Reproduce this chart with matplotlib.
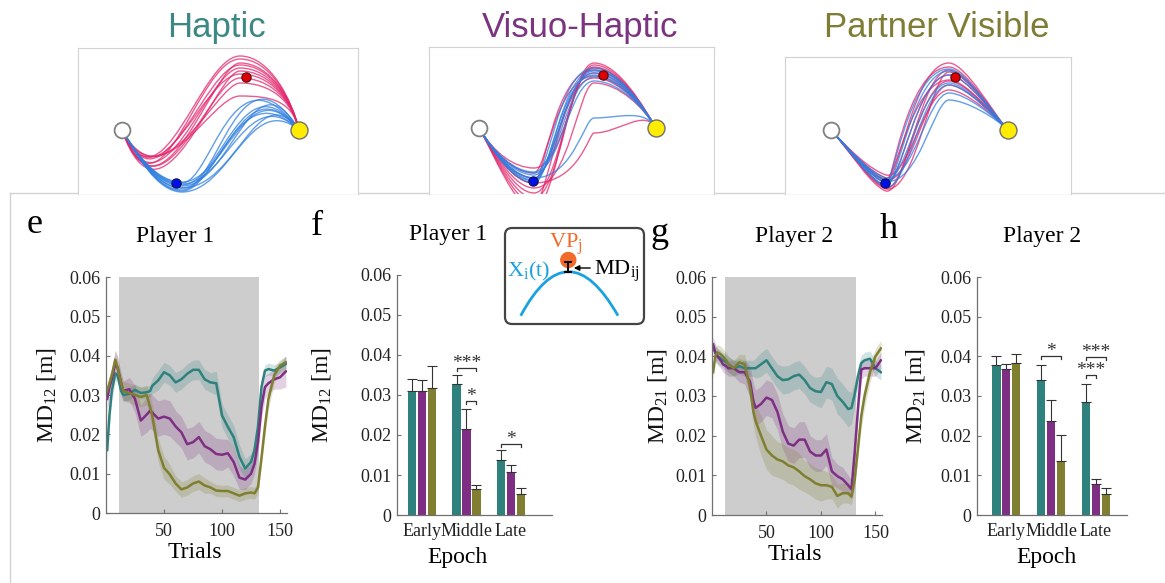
import numpy as np
import matplotlib
matplotlib.use('Agg')
import matplotlib.pyplot as plt
from matplotlib.path import Path
from matplotlib.patches import PathPatch, FancyBboxPatch, Circle
from matplotlib.lines import Line2D

plt.rcParams['font.family'] = ['Liberation Serif', 'DejaVu Serif']
plt.rcParams['mathtext.default'] = 'regular'

# ---------------- data ----------------
conditions = ['Haptic', 'Visuo-Haptic', 'Partner Visible']
epochs = ['Early', 'Middle', 'Late']

trials = [1, 3, 5, 8, 10, 13, 15, 20, 25, 30,
          35, 38, 40, 45, 50, 55, 60, 65, 70, 75,
          80, 85, 90, 95, 100, 105, 110, 115, 120, 125,
          128, 131, 134, 137, 140, 145, 150, 155]
shade_trials = [11.5, 132]

# panel e: player 1, moving mean of MD12
e_hap = [0.016, 0.025, 0.031, 0.0355, 0.035, 0.031, 0.030, 0.0303, 0.0313, 0.0305,
         0.0307, 0.031, 0.0324, 0.0337, 0.0358, 0.035, 0.0332, 0.034, 0.0354, 0.0364,
         0.0364, 0.034, 0.0332, 0.033, 0.0248, 0.0219, 0.0193, 0.0143, 0.0113, 0.013,
         0.016, 0.022, 0.032, 0.0362, 0.0366, 0.0362, 0.037, 0.0379]
e_vis = [0.029, 0.032, 0.034, 0.038, 0.037, 0.033, 0.031, 0.0315, 0.029, 0.0235,
         0.025, 0.026, 0.0255, 0.024, 0.0245, 0.024, 0.022, 0.0205, 0.0175, 0.018,
         0.0193, 0.017, 0.0162, 0.015, 0.0148, 0.0152, 0.013, 0.009, 0.0085, 0.010,
         0.0125, 0.018, 0.027, 0.032, 0.033, 0.034, 0.0345, 0.036]
e_pv = [0.031, 0.033, 0.035, 0.039, 0.037, 0.033, 0.031, 0.0305, 0.030, 0.0295,
        0.030, 0.027, 0.0245, 0.016, 0.0115, 0.0098, 0.0075, 0.006, 0.0065, 0.0075,
        0.008, 0.007, 0.0065, 0.0057, 0.0056, 0.0056, 0.005, 0.0044, 0.005, 0.0052,
        0.005, 0.0065, 0.014, 0.022, 0.029, 0.035, 0.0375, 0.0383]
e_hap_sem = [0.003, 0.003, 0.0025, 0.002, 0.0015, 0.0015, 0.0015, 0.0015, 0.0015, 0.0015,
             0.0015, 0.0015, 0.002, 0.0025, 0.0025, 0.0025, 0.0025, 0.0025, 0.0025, 0.0025,
             0.0025, 0.0025, 0.0025, 0.003, 0.003, 0.003, 0.003, 0.003, 0.0025, 0.002,
             0.002, 0.002, 0.002, 0.0015, 0.0015, 0.0015, 0.0015, 0.002]
e_vis_sem = [0.003, 0.003, 0.003, 0.0035, 0.003, 0.0025, 0.0025, 0.003, 0.0035, 0.004,
             0.0045, 0.0045, 0.0045, 0.0045, 0.0045, 0.0045, 0.004, 0.004, 0.004, 0.004,
             0.004, 0.004, 0.004, 0.004, 0.004, 0.0035, 0.0035, 0.003, 0.0025, 0.0025,
             0.0025, 0.003, 0.003, 0.003, 0.0025, 0.0025, 0.003, 0.004]
e_pv_sem = [0.002, 0.002, 0.002, 0.002, 0.0025, 0.0025, 0.0025, 0.0025, 0.0025, 0.0025,
            0.0025, 0.003, 0.003, 0.003, 0.003, 0.0025, 0.002, 0.002, 0.002, 0.002,
            0.002, 0.002, 0.0015, 0.0015, 0.0015, 0.0015, 0.0015, 0.0015, 0.0015, 0.0015,
            0.0015, 0.0015, 0.002, 0.0025, 0.0025, 0.002, 0.0015, 0.0015]

# panel g: player 2, moving mean of MD21
g_hap = [0.042, 0.041, 0.040, 0.0395, 0.039, 0.0385, 0.038, 0.037, 0.0375, 0.037,
         0.037, 0.037, 0.037, 0.038, 0.039, 0.037, 0.035, 0.034, 0.0342, 0.035,
         0.0354, 0.034, 0.032, 0.0312, 0.031, 0.0335, 0.033, 0.030, 0.0285, 0.0267,
         0.027, 0.0305, 0.035, 0.0383, 0.039, 0.0394, 0.037, 0.036]
g_vis = [0.043, 0.041, 0.040, 0.039, 0.038, 0.0375, 0.037, 0.037, 0.036, 0.036,
         0.0335, 0.0287, 0.027, 0.028, 0.0296, 0.029, 0.026, 0.021, 0.018, 0.0175,
         0.019, 0.019, 0.016, 0.015, 0.015, 0.0165, 0.011, 0.0098, 0.009, 0.0075,
         0.0065, 0.016, 0.027, 0.0367, 0.037, 0.037, 0.037, 0.039]
g_pv = [0.036, 0.040, 0.041, 0.0405, 0.040, 0.039, 0.038, 0.037, 0.0385, 0.038,
        0.032, 0.026, 0.0237, 0.020, 0.0165, 0.015, 0.014, 0.0135, 0.0125, 0.012,
        0.011, 0.0098, 0.009, 0.008, 0.0075, 0.0075, 0.0071, 0.0048, 0.0055, 0.0055,
        0.0046, 0.009, 0.017, 0.025, 0.030, 0.036, 0.040, 0.042]
g_hap_sem = [0.002, 0.002, 0.002, 0.002, 0.002, 0.002, 0.002, 0.002, 0.002, 0.002,
             0.002, 0.002, 0.0025, 0.003, 0.003, 0.003, 0.003, 0.0035, 0.0035, 0.0035,
             0.0035, 0.0035, 0.0035, 0.0035, 0.004, 0.004, 0.004, 0.0045, 0.0045, 0.0045,
             0.004, 0.003, 0.0025, 0.002, 0.002, 0.002, 0.002, 0.002]
g_vis_sem = [0.002, 0.002, 0.002, 0.002, 0.002, 0.002, 0.002, 0.002, 0.0025, 0.003,
             0.004, 0.0045, 0.0045, 0.0045, 0.0045, 0.0045, 0.0045, 0.0045, 0.0045, 0.0045,
             0.0045, 0.0045, 0.004, 0.004, 0.004, 0.004, 0.0035, 0.003, 0.003, 0.0025,
             0.0025, 0.003, 0.003, 0.0025, 0.002, 0.002, 0.002, 0.002]
g_pv_sem = [0.002, 0.002, 0.002, 0.002, 0.002, 0.002, 0.002, 0.002, 0.002, 0.0025,
            0.003, 0.0035, 0.004, 0.005, 0.005, 0.005, 0.0045, 0.0045, 0.0045, 0.0045,
            0.0045, 0.004, 0.004, 0.004, 0.004, 0.0035, 0.003, 0.003, 0.0025, 0.0025,
            0.002, 0.002, 0.0025, 0.003, 0.003, 0.0025, 0.002, 0.002]

# panels f / h: epoch means and standard errors
f_hap = [0.031, 0.0328, 0.0138]
f_vis = [0.031, 0.0216, 0.0108]
f_pv = [0.0318, 0.0064, 0.0052]
f_hap_err = [0.0031, 0.0022, 0.0024]
f_vis_err = [0.0028, 0.0049, 0.0018]
f_pv_err = [0.0055, 0.0012, 0.0015]
h_hap = [0.0377, 0.0341, 0.0284]
h_vis = [0.0368, 0.0238, 0.0079]
h_pv = [0.0384, 0.0137, 0.0053]
h_hap_err = [0.0025, 0.0036, 0.0045]
h_vis_err = [0.0013, 0.0051, 0.0013]
h_pv_err = [0.0023, 0.0065, 0.0015]
# (epoch, bar a, bar b, label, bracket height)
f_sig = [(1, 0, 2, '***', 0.0368), (1, 1, 2, '*', 0.0285), (2, 0, 2, '*', 0.0178)]
h_sig = [(1, 0, 2, '*', 0.0402), (2, 0, 1, '***', 0.0354), (2, 0, 2, '***', 0.0399)]

yticks = [0, 0.01, 0.02, 0.03, 0.04, 0.05, 0.06]
yticklabels = ['0', '0.01', '0.02', '0.03', '0.04', '0.05', '0.06']

# workspace targets (start, via 1 blue, via 2 red, end), units ~cm
start_xy = (0, 0)
blue_xy = (5.4, -5.3)
red_xy = (12.4, 5.3)
end_xy = (17.7, 0)

# bezier control polygons of the example trajectories and per-trial shifts (dx, d_low, d_high)
hap_pink = [(0, 0), (4, -10), (8.5, 6.2), (11.8, 6.2), (14.8, 6.2), (17, 3), (17.7, 0)]
hap_blue = [(0, 0), (1.5, -2.5), (3.5, -5.8), (6, -5.8), (10, -5.8), (12, 7), (17.7, 0)]
hap_pink_shift = [(0, 0, 0), (-0.5, 1.5, -0.6), (0.6, -1, 0.5), (1, 2, -1.5), (-1, -0.5, 0.9),
                  (0.3, 2.5, -2.8), (-0.3, 0.8, 0.3), (0.8, -1.5, -0.3), (-0.7, 1, 1.2), (0.2, -0.5, -1)]
hap_blue_shift = [(0, 0, 0), (0.5, 0.4, -2), (-0.5, -0.3, -1), (1, 0.2, 1), (-1, 0.5, 2),
                  (0.8, -0.4, -3), (0, 0.3, 0.5), (1.5, 0, -1.5), (-0.3, -0.2, 2.5), (0.4, 0.6, -0.5)]
vis_base = [(0, 0), (1.5, -2.5), (3.5, -5), (5.5, -5), (7.5, -5), (8.5, 5.5),
            (11.5, 5.5), (14, 5.5), (16.5, 2), (17.7, 0)]
vis_pink_shift = [(0, 0, 0), (0.5, -1.5, 0.5), (-0.5, -2.5, -0.5), (1, 1, 0.8), (-1, -0.5, 0.3),
                  (1.5, -1, -1), (0.3, -3, 0.6), (-0.8, 0.5, -0.3), (2.5, -0.5, -6), (0.6, -2, 1)]
vis_blue_shift = [(0, 0, 0), (0.3, 0.3, -0.4), (-0.3, -0.3, 0.3), (0.6, 0.5, -0.8),
                  (-0.6, -0.2, 0.5), (2, 0, -4.5), (0.2, 0.6, 0.2), (-0.4, -0.5, -0.2)]
pv_base = [(0, 0), (2, -2.2), (4, -4.8), (5.5, -5.3), (7, -5.8), (8.5, 5.5),
           (11.8, 5.5), (13.5, 5.5), (16.5, 1.2), (17.7, 0)]
pv_pink_shift = [(0, 0, 0), (0.5, -0.5, 0.5), (-0.5, 0.5, -0.5), (1, 0.3, -1), (-1, -0.3, 0.8),
                 (0.8, 0.8, -1.5), (1.5, -0.6, 0.3), (-0.3, 0.2, 1.2), (0.3, -0.8, -0.6)]
pv_blue_shift = [(0, 0, 0), (0.4, 0.3, -0.8), (-0.4, -0.3, 0.4), (1.2, 0.5, -1.8),
                 (-0.8, 0, 0.6), (1.8, 0.2, -2.5), (0.6, -0.4, -1)]

# ---------------- style ----------------
TEAL, PURPLE, OLIVE = '#2f817d', '#7e2f83', '#7f7e31'
TITLE_COLS = ['#3b8884', '#7b3480', '#7e7c35']
PINK, BLUE = '#e2266c', '#2f7fe0'
SPINE = '#707070'

W, H = 1165, 583
fig = plt.figure(figsize=(W / 100, H / 100), dpi=100)
fig.patch.set_facecolor('white')


def px_axes(x0, y0, x1, y1):
    return fig.add_axes([x0 / W, 1 - y1 / H, (x1 - x0) / W, (y1 - y0) / H])


# slide frame lines
fig.add_artist(Line2D([10 / W, 1], [1 - 193 / H] * 2, color='#d2d2d2', lw=1, zorder=-1))
fig.add_artist(Line2D([10 / W] * 2, [1 - 193 / H, 0], color='#d2d2d2', lw=1, zorder=-1))


# ---------------- top: trajectories ----------------
def shifted(base, shift, low, high, mid):
    pts = np.array(base, dtype=float)
    dx, dlo, dhi = shift
    pts[low, 1] += dlo
    pts[high, 1] += dhi
    pts[mid, 0] += dx
    return pts


def draw_traj(ax, pts, col):
    codes = [Path.MOVETO] + [Path.CURVE4] * (len(pts) - 1)
    ax.add_patch(PathPatch(Path(pts, codes), fc='none', ec=col, lw=1.0, alpha=0.75))


top_boxes = [(78, 48, 358, 194, 122, 130), (429, 47, 714, 194, 479, 128), (785, 57, 1071, 194, 831, 130)]
title_x = [216, 580, 937]
traj_sets = [
    [(hap_pink, hap_pink_shift, [1], [2, 3, 4], [2], PINK),
     (hap_blue, hap_blue_shift, [2, 3, 4], [5], [4, 5], BLUE)],
    [(vis_base, vis_pink_shift, [2, 3, 4], [5, 6, 7], [4, 5], PINK),
     (vis_base, vis_blue_shift, [2, 3, 4], [5, 6, 7], [4, 5], BLUE)],
    [(pv_base, pv_pink_shift, [2, 3, 4], [5, 6, 7], [4, 5], PINK),
     (pv_base, pv_blue_shift, [2, 3, 4], [5, 6, 7], [4, 5], BLUE)],
]

for k, (x0, y0, x1, y1, sx, sy) in enumerate(top_boxes):
    ax = px_axes(x0, y0, x1, y1)
    ax.set_xlim((x0 - sx) / 10, (x1 - sx) / 10)
    ax.set_ylim((sy - y1) / 10, (sy - y0) / 10)
    ax.set_xticks([])
    ax.set_yticks([])
    ax.set_facecolor('white')
    for side in ['top', 'left', 'right']:
        ax.spines[side].set_color('#d2d2d2')
    ax.spines['bottom'].set_visible(False)
    for base, shifts, low, high, mid, col in traj_sets[k]:
        for sh in shifts:
            draw_traj(ax, shifted(base, sh, low, high, mid), col)
    ax.scatter(*start_xy, s=130, facecolor='white', edgecolor='#808080', lw=1.3, zorder=5)
    ax.scatter(*end_xy, s=150, facecolor='#ffec00', edgecolor='#707070', lw=1, zorder=5)
    ax.scatter(*red_xy, s=45, facecolor='#e00000', edgecolor='#501010', lw=0.8, zorder=5)
    ax.scatter(*blue_xy, s=45, facecolor='#0010e8', edgecolor='#101050', lw=0.8, zorder=5)
    fig.text(title_x[k] / W, 1 - 37 / H, conditions[k], family='Liberation Sans', fontsize=25,
             color=TITLE_COLS[k], ha='center', va='baseline')


# ---------------- bottom panels ----------------
def style(ax, ylab, ylab_x):
    ax.set_ylim(0, 0.06)
    ax.set_yticks(yticks)
    ax.set_yticklabels(yticklabels)
    for side in ['top', 'right']:
        ax.spines[side].set_visible(False)
    for side in ['left', 'bottom']:
        ax.spines[side].set_color(SPINE)
        ax.spines[side].set_linewidth(0.9)
    ax.tick_params(direction='in', length=3, color=SPINE, labelsize=13, labelcolor='#222222')
    ax.tick_params(axis='y', pad=4)
    ax.set_facecolor('none')
    ax.text(ylab_x, 0.5, ylab, transform=ax.transAxes, rotation=90, ha='center', va='center',
            fontsize=17, color='#111111')


def line_panel(ax, series, title, title_x, ylab, ylab_x):
    ax.axvspan(shade_trials[0], shade_trials[1], color='#cdcdcd', lw=0, zorder=0)
    for mean, sem, col in series:
        m = np.array(mean)
        s = np.array(sem)
        ax.fill_between(trials, m - s, m + s, color=col, alpha=0.22, lw=0, zorder=1)
    for mean, sem, col in series:
        ax.plot(trials, mean, color=col, lw=1.8, zorder=2)
    ax.set_xlim(0, 156)
    ax.set_xticks([50, 100, 150])
    style(ax, ylab, ylab_x)
    ax.tick_params(axis='x', pad=7)
    ax.text(title_x, 1.17, title, transform=ax.transAxes, ha='center', va='center', fontsize=17)
    ax.text(0.49, -0.168, 'Trials', transform=ax.transAxes, ha='center', va='center', fontsize=17)


def bar_panel(ax, series, sigs, xlim, title, title_x, ylab, ylab_x, xlab_x):
    x = np.arange(1, len(epochs) + 1)
    for k, (vals, err, col) in enumerate(series):
        xs = x + (k - 1) * 0.22
        ax.bar(xs, vals, 0.19, color=col, edgecolor='none', zorder=2)
        ax.errorbar(xs, vals, yerr=[np.zeros(len(vals)), err], fmt='none', ecolor='#333333',
                    elinewidth=0.8, capsize=3.5, capthick=0.8, zorder=3)
    for g, a, b, lab, y in sigs:
        xa = g + 1 + (a - 1) * 0.22
        xb = g + 1 + (b - 1) * 0.22
        ax.plot([xa, xa, xb, xb], [y - 0.0008, y, y, y - 0.0008], color='#333333', lw=0.9)
        ax.text((xa + xb) / 2, y - 0.0001, lab, ha='center', va='baseline', fontsize=14,
                color='#333333')
    ax.set_xlim(*xlim)
    ax.set_xticks(x)
    ax.set_xticklabels(epochs)
    style(ax, ylab, ylab_x)
    ax.tick_params(axis='x', length=0, pad=6)
    ax.text(title_x, 1.17, title, transform=ax.transAxes, ha='center', va='center', fontsize=17)
    ax.text(xlab_x, -0.177, 'Epoch', transform=ax.transAxes, ha='center', va='center', fontsize=17)


ax_e = px_axes(106, 277, 287, 513)
line_panel(ax_e, [(e_hap, e_hap_sem, TEAL), (e_vis, e_vis_sem, PURPLE), (e_pv, e_pv_sem, OLIVE)],
           'Player 1', 0.38, 'MD$_{12}$ [m]', -0.33)
ax_g = px_axes(712, 277, 882, 515)
line_panel(ax_g, [(g_hap, g_hap_sem, TEAL), (g_vis, g_vis_sem, PURPLE), (g_pv, g_pv_sem, OLIVE)],
           'Player 2', 0.48, 'MD$_{21}$ [m]', -0.32)

ax_f = px_axes(397, 275, 552, 515)
bar_panel(ax_f, [(f_hap, f_hap_err, TEAL), (f_vis, f_vis_err, PURPLE), (f_pv, f_pv_err, OLIVE)],
          f_sig, (0.44, 3.92), 'Player 1', 0.33, 'MD$_{12}$ [m]', -0.49, 0.39)
ax_h = px_axes(977, 277, 1127, 515)
bar_panel(ax_h, [(h_hap, h_hap_err, TEAL), (h_vis, h_vis_err, PURPLE), (h_pv, h_pv_err, OLIVE)],
          h_sig, (0.35, 3.69), 'Player 2', 0.435, 'MD$_{21}$ [m]', -0.41, 0.46)

# panel letters
for lab, px, py in [('e', 35, 233), ('f', 317, 235), ('g', 660, 242), ('h', 889, 238)]:
    fig.text(px / W, 1 - py / H, lab, fontsize=26, ha='center', va='baseline')

# ---------------- inset schematic ----------------
ins = px_axes(500, 222, 650, 332)
ins.set_xlim(500, 650)
ins.set_ylim(332, 222)
ins.axis('off')
ins.add_patch(FancyBboxPatch((505, 228), 139, 96, boxstyle='round,pad=0,rounding_size=7',
                             ec='#444444', fc='white', lw=1.6))
ins.add_patch(PathPatch(Path([(520.7, 315.7), (568, 227.7), (618, 315.7)],
                             [Path.MOVETO, Path.CURVE3, Path.CURVE3]),
                        fc='none', ec='#1ba1e2', lw=2))
ins.add_patch(Circle((568.3, 260), 7.5, color='#f26a2a', zorder=3))
ins.plot([568, 568], [262, 272], color='k', lw=1.4, zorder=4)
ins.plot([565, 571], [262, 262], color='k', lw=1.4, zorder=4)
ins.plot([565, 571], [272, 272], color='k', lw=1.4, zorder=4)
ins.annotate('', xy=(571, 268), xytext=(593, 268),
             arrowprops=dict(arrowstyle='-|>', color='k', lw=1, mutation_scale=8))
ins.text(566, 244, 'VP$_j$', color='#f26a2a', fontsize=16, ha='center', va='center')
ins.text(529, 271, 'X$_i$(t)', color='#1ba1e2', fontsize=16, ha='center', va='center')
ins.text(594, 271, 'MD$_{ij}$', color='k', fontsize=16, ha='left', va='center')

fig.savefig('out.png', dpi=100, facecolor='white')
